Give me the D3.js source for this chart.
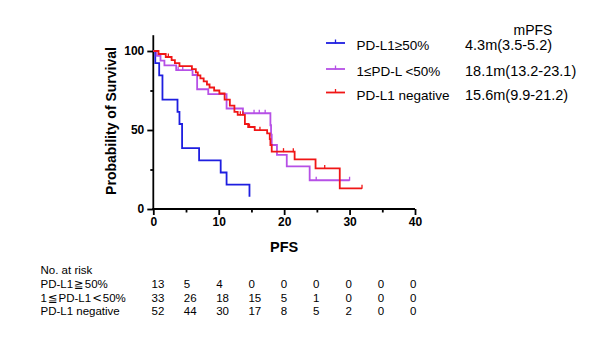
<!DOCTYPE html>
<html>
<head>
<meta charset="utf-8">
<script src="https://cdn.jsdelivr.net/npm/d3@7/dist/d3.min.js"></script>
<style>
    body { margin: 0; background: #fff; }
    text { font-family: "Liberation Sans", Arial, sans-serif; fill: #000; }
    .sym { font-family: "DejaVu Sans", sans-serif; }
</style>
</head>
<body>
<svg class="km-plot" width="607" height="337"></svg>
<script>
// legend / risk table text
const groupNames = ["PD-L1≥50%", "1≤PD-L <50%", "PD-L1 negative"];
// risk table labels, split so the wide symbols can use another font
const riskNames = [["PD-L1", "≧", "50%"], ["1", "≦", "PD-L1", "<", "50%"], ["PD-L1 negative"]];
const medianText = ["4.3m(3.5-5.2)", "18.1m(13.2-23.1)", "15.6m(9.9-21.2)"];
const colors = ["#1e1ee0", "#b650e6", "#f01616"];

// [time, survival %] at each event
const highSteps = [[0,100],[0.3,92.3],[0.9,84.6],[1.4,69.2],[3.7,61.5],[4.0,53.8],[4.4,38.5],
    [7.0,30.8],[10.3,23.1],[11.2,15.4],[14.7,7.7]];
const midSteps = [[0,100],[0.5,97],[1.1,93.9],[1.7,90.9],[3.5,87.9],[6.0,84.8],[6.7,75.8],
    [8.4,72.7],[11.2,63.6],[13.7,60.6],[17.9,53],[18.0,47],[18.1,40.5],[18.9,34.2],
    [20.4,27],[23.9,18.2]];
const negSteps = [[0,100],[0.8,98.1],[1.9,96.2],[2.8,94.2],[3.3,92.3],[4.0,90.4],[5.9,88.5],
    [6.5,86.5],[6.8,84.6],[7.2,82.7],[7.7,80.8],[8.2,78.8],[8.6,76.9],[9.3,75],[10.1,73.1],
    [10.9,69.2],[11.7,65.4],[12.4,61.5],[12.9,59.6],[14.0,53.8],[14.5,51.9],[15.5,49.9],
    [17.4,47.9],[17.8,44.2],[17.9,40.5],[18.1,36.3],[21.6,31.4],[24.8,25.7],[28.5,13.1]];
const endTimes = [14.7, 30.0, 31.9];

// censored times
const highCensor = [];
const midCensor = [3.8, 4.5, 15.4, 16.2, 17.1, 24.9, 30.0];
const negCensor = [2.3, 13.3, 13.7, 14.7, 16.3, 19.9, 21.4, 26.2, 31.9];

// number at risk
const riskTimes = [0, 5, 10, 15, 20, 25, 30, 35, 40];
const riskHigh = [13, 5, 4, 0, 0, 0, 0, 0, 0];
const riskMid = [33, 26, 18, 15, 5, 1, 0, 0, 0];
const riskNeg = [52, 44, 30, 17, 8, 5, 2, 0, 0];

const svg = d3.select(".km-plot");
const x = d3.scaleLinear().domain([0, 40]).range([153.3, 415]);
const y = d3.scaleLinear().domain([0, 100]).range([209, 51]);

function survivalAt(steps, t) {
    let s = steps[0][1];
    steps.forEach(d => { if (d[0] <= t) s = d[1]; });
    return s;
}

function setupAxes() {
    const yAxis = svg.append("g").attr("transform", `translate(${x(0)},0)`);
    yAxis.call(d3.axisLeft(y).tickValues([0, 50, 100]).tickSize(6).tickPadding(3))
        .call(g => g.select(".domain").remove());
    yAxis.append("g").call(d3.axisLeft(y).tickValues([25, 75]).tickSize(3).tickFormat(""))
        .call(g => g.select(".domain").remove());
    yAxis.append("line").attr("y1", y(0) + 1).attr("y2", y(110));

    const xAxis = svg.append("g").attr("transform", `translate(0,${y(0)})`);
    xAxis.call(d3.axisBottom(x).tickValues([0, 10, 20, 30, 40]).tickSize(6).tickPadding(2))
        .call(g => g.select(".domain").remove());
    xAxis.append("g").call(d3.axisBottom(x).tickValues([5, 15, 25, 35]).tickSize(3.5).tickFormat(""))
        .call(g => g.select(".domain").remove());
    xAxis.append("line").attr("x1", x(0) - 1).attr("x2", x(40));

    svg.selectAll(".tick line, g > line").attr("stroke", "#000").attr("stroke-width", 1.8);
    svg.selectAll(".tick text").attr("font-size", 12).attr("font-weight", "bold")
        .attr("font-family", "Liberation Sans, Arial, sans-serif").attr("fill", "#000");

    svg.append("text")
        .attr("transform", `translate(115.5,121) rotate(-90)`)
        .attr("text-anchor", "middle")
        .attr("font-size", 14).attr("font-weight", "bold")
        .text("Probability of Survival");

    svg.append("text")
        .attr("x", x(20)).attr("y", 252)
        .attr("text-anchor", "middle")
        .attr("font-size", 14.5).attr("font-weight", "bold")
        .text("PFS");
}

function setupCurves() {
    const line = d3.line().x(d => x(d[0])).y(d => y(d[1])).curve(d3.curveStepAfter);
    const all = [highSteps, midSteps, negSteps];
    const censors = [highCensor, midCensor, negCensor];

    all.forEach((steps, i) => {
        const pts = steps.concat([[endTimes[i], steps[steps.length - 1][1]]]);
        svg.append("path")
            .datum(pts)
            .attr("fill", "none")
            .attr("stroke", colors[i])
            .attr("stroke-width", 1.8)
            .attr("d", line);

        svg.append("g")
            .selectAll("line")
            .data(censors[i])
            .enter().append("line")
                .attr("x1", d => x(d)).attr("x2", d => x(d))
                .attr("y1", d => y(survivalAt(steps, d)) + 0.5)
                .attr("y2", d => y(survivalAt(steps, d)) - 3.5)
                .attr("stroke", colors[i])
                .attr("stroke-width", 1.3);
    });
}

function setupLegend() {
    const rows = [45, 71, 94.5];
    const legend = svg.append("g");

    legend.append("text")
        .attr("x", 533).attr("y", 35)
        .attr("text-anchor", "middle")
        .attr("font-size", 14)
        .text("mPFS");

    groupNames.forEach((name, i) => {
        legend.append("line")
            .attr("x1", 326).attr("x2", 345)
            .attr("y1", rows[i] - 2).attr("y2", rows[i] - 2)
            .attr("stroke", colors[i]).attr("stroke-width", 1.8);
        legend.append("line")
            .attr("x1", 335.5).attr("x2", 335.5)
            .attr("y1", rows[i] - 1.5).attr("y2", rows[i] - 5.5)
            .attr("stroke", colors[i]).attr("stroke-width", 1.3);
        legend.append("text")
            .attr("x", 356.5).attr("y", rows[i] + 5)
            .attr("font-size", 13.5)
            .text(name);
        legend.append("text")
            .attr("x", 465).attr("y", rows[i] + 5)
            .attr("font-size", 14.5)
            .text(medianText[i]);
    });
}

function setupRiskTable() {
    const col = d3.scaleLinear().domain([0, 40]).range([151.5, 410]);
    const rowY = [288, 301.5, 315];
    const table = svg.append("g");

    table.append("text").attr("x", 40.5).attr("y", 274).attr("font-size", 11.5).text("No. at risk");

    [riskHigh, riskMid, riskNeg].forEach((counts, i) => {
        const label = table.append("text").attr("x", 40.5).attr("y", rowY[i]).attr("font-size", 11.5);
        riskNames[i].forEach(part => {
            const isSym = /[≧≦<]/.test(part);
            label.append("tspan")
                .attr("class", isSym ? "sym" : null)
                .attr("dx", isSym ? 1 : (part === "50%" || part === "PD-L1" && i === 1 ? 1 : null))
                .text(part);
        });
        table.append("g")
            .selectAll("text")
            .data(counts)
            .enter().append("text")
                .attr("x", (d, j) => col(riskTimes[j]))
                .attr("y", rowY[i])
                .attr("font-size", 11.5)
                .text(d => d);
    });
}

setupAxes();
setupCurves();
setupLegend();
setupRiskTable();
</script>
</body>
</html>
